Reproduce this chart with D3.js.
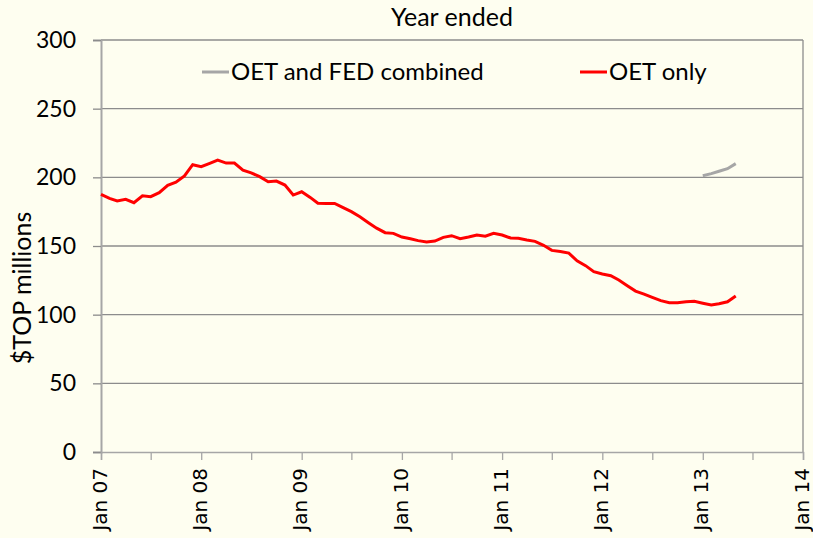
<!DOCTYPE html>
<html>
<head>
<meta charset="utf-8">
<script src="https://cdn.jsdelivr.net/npm/d3@7"></script>
<style>
  body { margin: 0; background: #fefef0; }
  svg { display: block; }
</style>
</head>
<body>
<script>
// monthly values, Jan 2007 onwards
var oetStart = "2007-01";
var oetOnly = [
  187.6, 184.7, 182.8, 184.0, 181.5, 186.6, 185.9, 188.8, 194.2, 196.4, 201.0, 209.2,
  207.7, 210.2, 212.6, 210.4, 210.4, 205.3, 203.3, 200.5, 196.8, 197.3, 194.4, 187.1,
  189.5, 185.4, 181.1, 181.0, 181.0, 177.9, 175.0, 171.3, 167.0, 163.0, 159.7, 159.2,
  156.5, 155.3, 153.9, 152.9, 153.6, 156.3, 157.5, 155.3, 156.5, 158.0, 157.1, 159.2,
  158.0, 155.8, 155.6, 154.4, 153.4, 150.5, 146.8, 146.0, 144.8, 139.2, 135.7, 131.3,
  129.6, 128.4, 125.2, 121.1, 117.2, 115.0, 112.6, 110.2, 108.7, 108.7, 109.4, 109.7,
  108.3, 107.0, 108.0, 109.4, 113.6
];
var combinedStart = "2013-01";
var oetFedCombined = [201.2, 202.7, 204.4, 206.3, 210.0];

var yTicks = [0, 50, 100, 150, 200, 250, 300];
var xTickYears = [2007, 2008, 2009, 2010, 2011, 2012, 2013, 2014];
var seriesNames = ["OET and FED combined", "OET only"];
var seriesColors = ["#a6a6a6", "#ff0000"];

var W = 813, H = 538;
var margin = {top: 40, right: 10, bottom: 86, left: 101},
    width = 803 - margin.left,
    height = 452 - margin.top;

var textFont = "Lato, 'Open Sans', sans-serif";

var parseMonth = d3.timeParse("%Y-%m");
function toPoints(start, vals) {
  var s = parseMonth(start);
  return vals.map(function(v, i) { return {date: d3.timeMonth.offset(s, i), value: v}; });
}

var x = d3.scaleTime()
    .domain([new Date(2007, 0, 1), new Date(2014, 0, 1)])
    .range([0, width]);
var y = d3.scaleLinear().domain([0, 300]).range([height, 0]);

var svg = d3.select("body").append("svg")
    .attr("width", W)
    .attr("height", H)
    .style("background", "#fefef0");

var g = svg.append("g")
    .attr("transform", "translate(" + margin.left + "," + margin.top + ")");

// gridlines
g.selectAll(".grid")
    .data(yTicks.filter(function(d) { return d > 0; }))
  .enter().append("line")
    .attr("x1", 0)
    .attr("x2", width)
    .attr("y1", function(d) { return y(d); })
    .attr("y2", function(d) { return y(d); })
    .attr("stroke", "#8c8c8c")
    .attr("stroke-width", 1.3);

// right border
g.append("line")
    .attr("x1", width).attr("x2", width)
    .attr("y1", 0).attr("y2", height)
    .attr("stroke", "#8c8c8c")
    .attr("stroke-width", 1.3);

// y axis
var yAxis = d3.axisLeft(y).tickValues(yTicks).tickSize(8).tickPadding(17);
var ya = g.append("g").call(yAxis);
ya.select(".domain").attr("stroke", "#a6a6a6").attr("stroke-width", 2);
ya.selectAll(".tick line").attr("stroke", "#8c8c8c").attr("stroke-width", 1.3);
ya.selectAll(".tick text")
    .style("font-family", textFont)
    .style("font-size", "23px")
    .attr("fill", "#000");

// x axis: major ticks on Jan, minor on Jul
var xTicks = [];
xTickYears.forEach(function(yr) {
  xTicks.push(new Date(yr, 0, 1));
  if (yr < 2014) xTicks.push(new Date(yr, 6, 1));
});
var xAxis = d3.axisBottom(x).tickValues(xTicks).tickSize(8)
    .tickFormat(function(d) { return d.getMonth() === 0 ? "Jan " + d3.timeFormat("%y")(d) : ""; });
var xa = g.append("g")
    .attr("transform", "translate(0," + height + ")")
    .call(xAxis);
xa.select(".domain").attr("stroke", "#a6a6a6").attr("stroke-width", 1.5);
xa.selectAll(".tick line").attr("stroke", "#a6a6a6").attr("stroke-width", 1.3);
xa.selectAll(".tick text")
    .style("font-family", "'DejaVu Sans', sans-serif")
    .style("font-size", "20px")
    .attr("fill", "#000")
    .attr("transform", "rotate(-90)")
    .attr("text-anchor", "end")
    .attr("x", -16)
    .attr("y", -2)
    .attr("dy", "0.36em");

// lines
var line = d3.line()
    .x(function(d) { return x(d.date); })
    .y(function(d) { return y(d.value); });

g.append("path")
    .datum(toPoints(combinedStart, oetFedCombined))
    .attr("d", line)
    .attr("fill", "none")
    .attr("stroke", seriesColors[0])
    .attr("stroke-width", 3);

g.append("path")
    .datum(toPoints(oetStart, oetOnly))
    .attr("d", line)
    .attr("fill", "none")
    .attr("stroke", seriesColors[1])
    .attr("stroke-width", 3);

// legend
var legendX = [202, 580];
seriesNames.forEach(function(name, i) {
  svg.append("line")
      .attr("x1", legendX[i]).attr("x2", legendX[i] + 27)
      .attr("y1", 72).attr("y2", 72)
      .attr("stroke", seriesColors[i])
      .attr("stroke-width", 3);
  svg.append("text")
      .attr("x", legendX[i] + 29)
      .attr("y", 80)
      .style("font-family", textFont)
      .style("font-size", "24px")
      .text(name);
});

// title
svg.append("text")
    .attr("x", 452)
    .attr("y", 26)
    .attr("text-anchor", "middle")
    .style("font-family", textFont)
    .style("font-size", "25px")
    .text("Year ended");

// y label
svg.append("text")
    .attr("transform", "translate(31,288) rotate(-90)")
    .attr("text-anchor", "middle")
    .style("font-family", textFont)
    .style("font-size", "25px")
    .text("$TOP millions");
</script>
</body>
</html>
